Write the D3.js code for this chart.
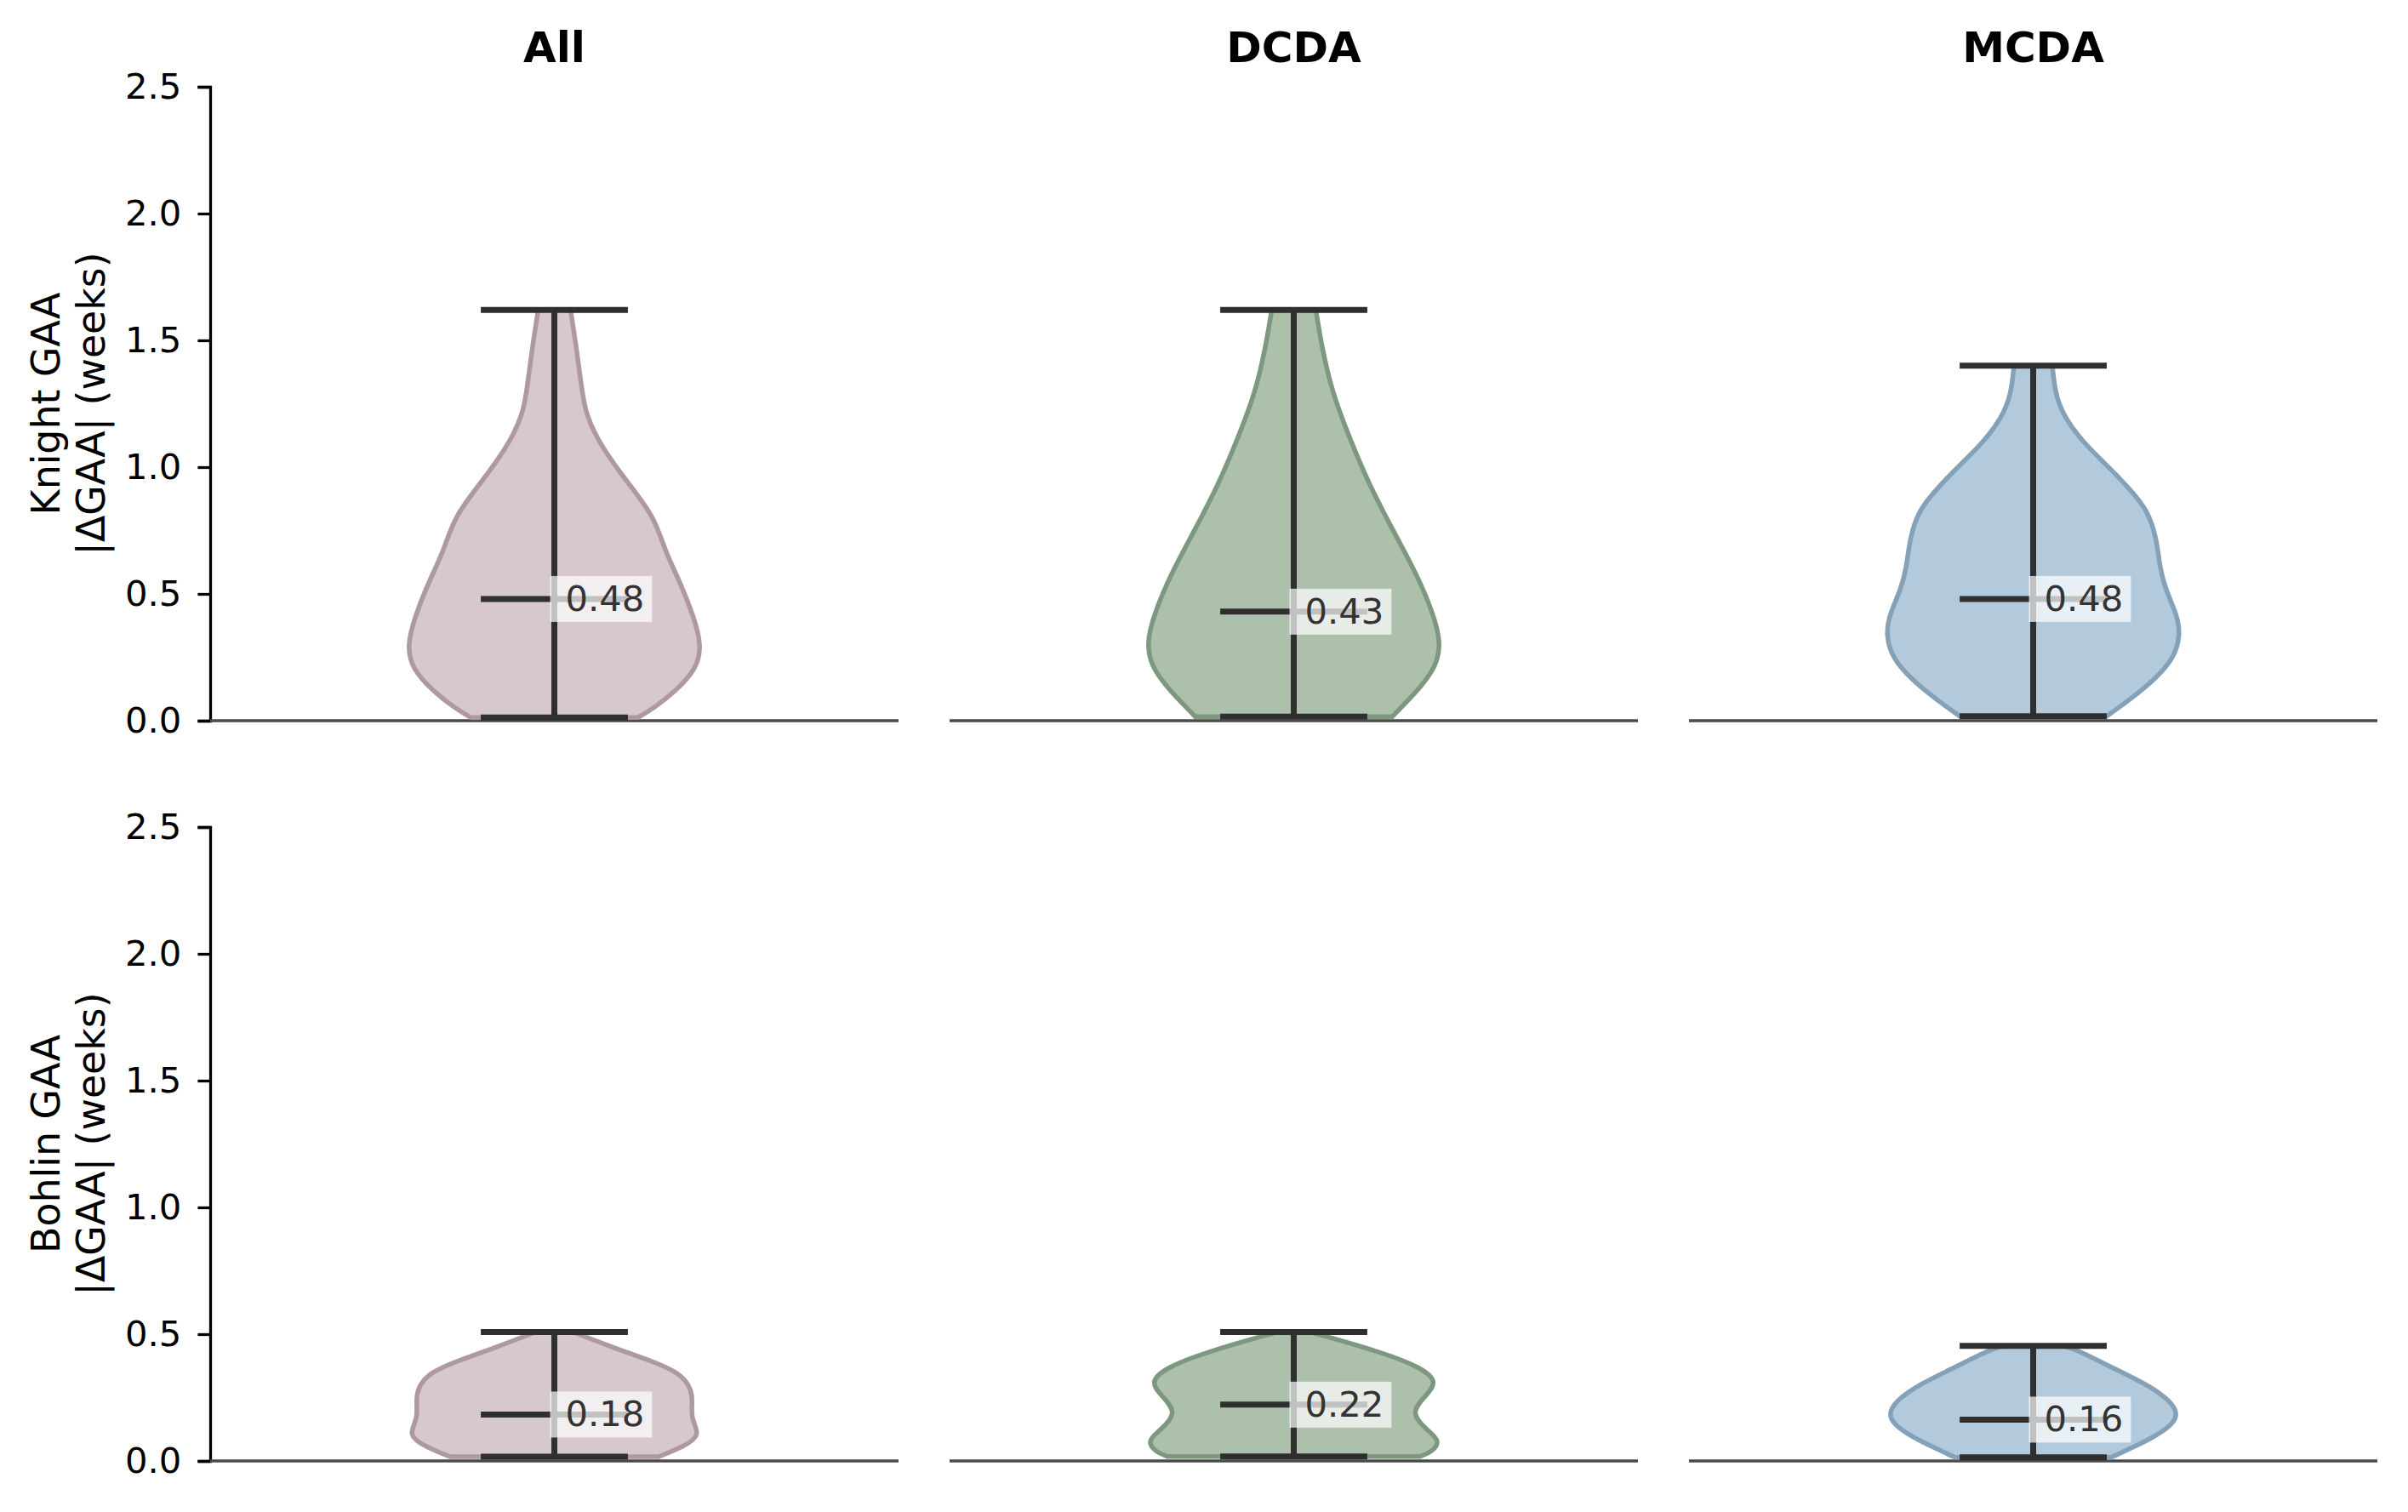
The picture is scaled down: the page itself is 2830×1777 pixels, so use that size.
<!DOCTYPE html>
<html lang="en">
<head>
  <meta charset="UTF-8">
  <title>GAA error violins</title>
  <script src="https://d3js.org/d3.v7.min.js"></script>
  <style>
    body { margin: 0; background: #fff; }
    text { font-family: "DejaVu Sans", sans-serif; }
  </style>
</head>
<body>
  <div id="chart"></div>

  <script>
    // Panel titles and row labels
    const columns = ["All", "DCDA", "MCDA"];
    const rowLabels = ["Knight GAA", "Bohlin GAA"];
    const unitLabel = "|ΔGAA| (weeks)";
    const yTicks = [0, 0.5, 1.0, 1.5, 2.0, 2.5];

    // Summary values per column (All, DCDA, MCDA)
    const knightMin = [0.013, 0.016, 0.018];
    const knightMax = [1.62, 1.62, 1.40];
    const knightMedian = [0.48, 0.43, 0.48];
    const bohlinMin = [0.017, 0.018, 0.014];
    const bohlinMax = [0.508, 0.508, 0.454];
    const bohlinMedian = [0.183, 0.222, 0.163];

    // Violin outlines: level (weeks) and relative density
    const knightAllLevels = [0.013, 0.047, 0.114, 0.206, 0.299, 0.406, 0.54, 0.672, 0.805, 0.938, 1.071, 1.205, 1.338, 1.471, 1.62];
    const knightAllDensity = [0.57, 0.67, 0.82, 0.97, 1.0, 0.95, 0.86, 0.75, 0.68, 0.50, 0.33, 0.21, 0.18, 0.15, 0.11];
    const knightDcdaLevels = [0.016, 0.058, 0.131, 0.215, 0.31, 0.419, 0.574, 0.755, 0.934, 1.114, 1.295, 1.477, 1.62];
    const knightDcdaDensity = [0.67, 0.74, 0.86, 0.97, 1.0, 0.95, 0.84, 0.67, 0.51, 0.38, 0.26, 0.19, 0.15];
    const knightMcdaLevels = [0.018, 0.08, 0.158, 0.248, 0.337, 0.416, 0.516, 0.605, 0.717, 0.829, 0.918, 1.008, 1.097, 1.198, 1.288, 1.40];
    const knightMcdaDensity = [0.50, 0.65, 0.82, 0.96, 1.0, 0.98, 0.90, 0.86, 0.84, 0.78, 0.65, 0.50, 0.34, 0.21, 0.15, 0.13];
    const bohlinAllLevels = [0.017, 0.057, 0.102, 0.17, 0.26, 0.34, 0.393, 0.449, 0.508];
    const bohlinAllDensity = [0.71, 0.88, 1.0, 0.92, 0.95, 0.88, 0.67, 0.39, 0.13];
    const bohlinDcdaLevels = [0.018, 0.035, 0.08, 0.124, 0.191, 0.258, 0.314, 0.37, 0.426, 0.493, 0.508];
    const bohlinDcdaDensity = [0.86, 0.94, 1.0, 0.90, 0.79, 0.90, 0.98, 0.86, 0.61, 0.21, 0.11];
    const bohlinMcdaLevels = [0.014, 0.046, 0.102, 0.169, 0.236, 0.303, 0.37, 0.443, 0.454];
    const bohlinMcdaDensity = [0.53, 0.65, 0.85, 1.0, 0.94, 0.77, 0.53, 0.28, 0.20];

    const fills = ["#d7c8ce", "#adc0ac", "#b3cadc"];
    const edges = ["#ae99a1", "#7e9880", "#84a1b8"];

    // build row tables from the arrays above
    const rowsData = [
      {
        label: rowLabels[0],
        min: knightMin, max: knightMax, median: knightMedian,
        levels: [knightAllLevels, knightDcdaLevels, knightMcdaLevels],
        density: [knightAllDensity, knightDcdaDensity, knightMcdaDensity]
      },
      {
        label: rowLabels[1],
        min: bohlinMin, max: bohlinMax, median: bohlinMedian,
        levels: [bohlinAllLevels, bohlinDcdaLevels, bohlinMcdaLevels],
        density: [bohlinAllDensity, bohlinDcdaDensity, bohlinMcdaDensity]
      }
    ];

    const W = 2830, H = 1777;
    const panelLeft = 247, panelW = 809, panelGap = 60;
    const rowTop = [102, 972], panelH = 745;
    const lineColor = "#2f2f2f";

    const svg = d3.select("#chart").append("svg")
      .attr("width", W).attr("height", H)
      .style("background", "#fff");

    rowsData.forEach((row, r) => {
      const y = d3.scaleLinear()
        .domain([0, 2.5])
        .range([rowTop[r] + panelH, rowTop[r]]);

      // y axis on first column only
      const yAxis = svg.append("g")
        .attr("transform", "translate(" + panelLeft + ",0)")
        .call(d3.axisLeft(y)
          .tickValues(yTicks)
          .tickFormat(d3.format(".1f"))
          .tickSizeOuter(0)
          .tickSize(14.6)
          .tickPadding(19));
      yAxis.select(".domain").attr("stroke", "#000").attr("stroke-width", 3.3);
      yAxis.selectAll(".tick line").attr("stroke", "#000").attr("stroke-width", 3.3);
      yAxis.selectAll(".tick text")
        .attr("fill", "#000")
        .style("font-size", "41.7px")
        .style("font-family", "DejaVu Sans");

      // two-line y label
      const midY = rowTop[r] + panelH / 2;
      [[row.label, 70], [unitLabel, 123]].forEach(([txt, bx]) => {
        svg.append("text")
          .attr("transform", "translate(" + bx + "," + midY + ") rotate(-90)")
          .attr("text-anchor", "middle")
          .style("font-size", "45.8px")
          .attr("fill", "#000")
          .text(txt);
      });

      columns.forEach((col, c) => {
        const left = panelLeft + c * (panelW + panelGap);
        const x = d3.scaleLinear()
          .domain([0.415, 1.585])
          .range([left, left + panelW]);
        const g = svg.append("g");

        // baseline at zero
        g.append("line")
          .attr("x1", left).attr("x2", left + panelW)
          .attr("y1", y(0)).attr("y2", y(0))
          .attr("stroke", "#4a4a4a").attr("stroke-width", 3.3);

        // violin body
        const pts = row.levels[c].map((v, i) => ({ v: v, d: row.density[c][i] }));
        const area = d3.area()
          .y(p => y(p.v))
          .x0(p => x(1 - 0.25 * p.d))
          .x1(p => x(1 + 0.25 * p.d))
          .curve(d3.curveBasis);
        g.append("path")
          .datum(pts)
          .attr("d", area)
          .attr("fill", fills[c])
          .attr("stroke", edges[c])
          .attr("stroke-width", 5.5)
          .attr("stroke-linejoin", "round");

        // extrema bars, median and vertical line
        const lo = row.min[c], hi = row.max[c], med = row.median[c];
        g.append("line")
          .attr("x1", x(1)).attr("x2", x(1))
          .attr("y1", y(lo)).attr("y2", y(hi))
          .attr("stroke", lineColor).attr("stroke-width", 7);
        [lo, hi, med].forEach(v => {
          g.append("line")
            .attr("x1", x(0.875)).attr("x2", x(1.125))
            .attr("y1", y(v)).attr("y2", y(v))
            .attr("stroke", lineColor).attr("stroke-width", 7);
        });

        // median value label with translucent box
        const box = g.append("rect");
        const label = g.append("text")
          .attr("x", x(1) + 13)
          .attr("y", y(med) + 14)
          .attr("fill", "#333")
          .style("font-size", "41.7px")
          .text(d3.format(".2f")(med));
        const bb = label.node().getBBox();
        box.attr("x", x(1) - 5)
          .attr("y", y(med) - 27)
          .attr("width", bb.x + bb.width + 9 - (x(1) - 5))
          .attr("height", 54)
          .attr("fill", "#fff")
          .attr("fill-opacity", 0.7);

        // column titles on top row
        if (r === 0) {
          svg.append("text")
            .attr("x", left + panelW / 2)
            .attr("y", 73)
            .attr("text-anchor", "middle")
            .style("font-size", "50px")
            .style("font-weight", "bold")
            .attr("fill", "#000")
            .text(col);
        }
      });
    });
  </script>
</body>
</html>
